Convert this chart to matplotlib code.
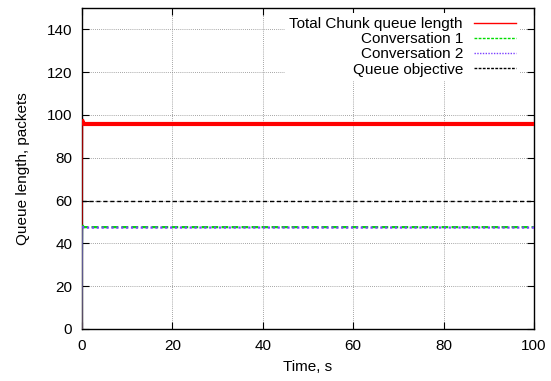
import matplotlib
matplotlib.use("Agg")
import matplotlib.pyplot as plt
import matplotlib.lines as mlines

plt.rcParams['font.family'] = ['Liberation Sans', 'DejaVu Sans']

# Data
t_total = [0, 0.05, 0.1, 0.15, 0.25, 0.4, 100]
q_total = [0, 40, 80, 97, 96.5, 95.8, 95.8]
t_conv = [0, 0.05, 0.1, 0.15, 0.25, 0.4, 100]
q_conv1 = [0, 15, 35, 48.5, 48, 47.6, 47.6]
q_conv2 = [0, 14, 34, 48, 47.6, 47.4, 47.4]
t_obj = [0, 100]
q_obj = [60, 60]

labels = ["Total Chunk queue length", "Conversation 1", "Conversation 2", "Queue objective"]
xticks = [0, 20, 40, 60, 80, 100]
yticks = [0, 20, 40, 60, 80, 100, 120, 140]

W, H = 551, 381
fig = plt.figure(figsize=(W/100, H/100), dpi=100)
L, R, T, B = 82, 534, 8, 329
ax = fig.add_axes([L/W, 1-B/H, (R-L)/W, (B-T)/H])

# ramp-up part (thin) and steady part (thick, jittery look)
ax.plot(t_total[:4], q_total[:4], color='#ff0000', lw=1, alpha=0.6, zorder=3)
ax.plot(t_total[3:], q_total[3:], color='#ff0000', lw=3, zorder=3)
ax.plot(t_conv[:4], q_conv1[:4], color='#00dd00', lw=0.8, alpha=0.6, zorder=4)
ax.plot(t_conv[3:], q_conv1[3:], color='#00dd00', lw=1.6, ls=(0, (3, 1.5)), zorder=4)
ax.plot(t_conv[:4], q_conv2[:4], color='#7b3fff', lw=0.8, alpha=0.6, zorder=4)
ax.plot(t_conv[3:], q_conv2[3:], color='#7b3fff', lw=1.6, ls=(0, (1, 1.2)), zorder=4)
ax.plot(t_obj, q_obj, color='black', lw=1, ls=(0, (3, 2)), zorder=3)

ax.set_xlim(0, 100)
ax.set_ylim(0, 150)
ax.set_xticks(xticks)
ax.set_yticks(yticks)
ax.tick_params(direction='in', length=5, width=0.8, top=True, right=True, labelsize=11, pad=7)
ax.grid(True, color='#888888', ls=(0, (1, 1.5)), lw=0.6)
for s in ax.spines.values():
    s.set_linewidth(1.0)

ax.set_xlabel("Time, s", fontsize=11, labelpad=5)
ax.set_ylabel("Queue length, packets", fontsize=11, labelpad=12)

h2 = [
    mlines.Line2D([], [], color='#ff0000', lw=1.0),
    mlines.Line2D([], [], color='#00dd00', lw=1.0, ls=(0, (2, 1))),
    mlines.Line2D([], [], color='#7b3fff', lw=1.0, ls=(0, (1, 1))),
    mlines.Line2D([], [], color='black', lw=1.0, ls=(0, (2, 1))),
]
leg = ax.legend(h2, labels, loc='upper right', markerfirst=False, fontsize=11,
                bbox_to_anchor=(1, 1 + 9/321),
                frameon=True, fancybox=False, framealpha=1, edgecolor='none',
                facecolor='white', handlelength=2.7, handletextpad=0.75,
                labelspacing=0.07, borderpad=0.3, borderaxespad=0.9)
leg.set_zorder(5)

fig.savefig("out.png", dpi=100)
